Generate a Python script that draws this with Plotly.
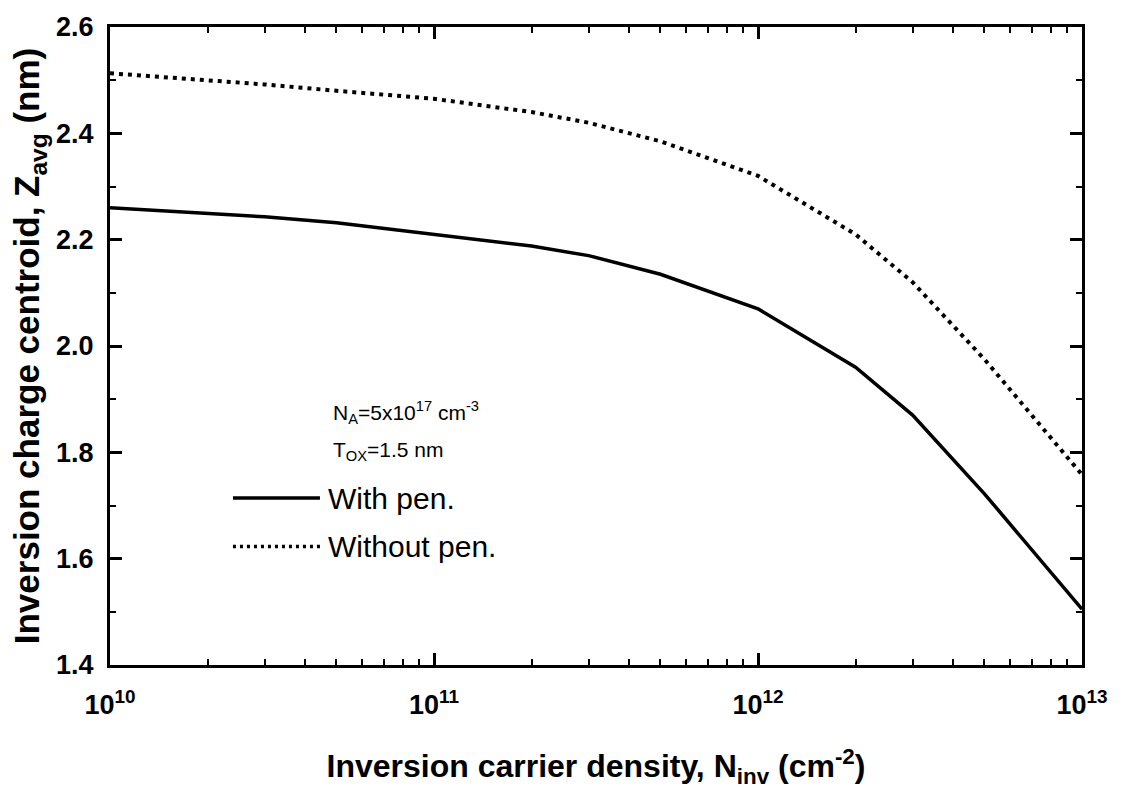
import plotly.graph_objects as go

# ---- data ----
n_inv = [1e10, 2e10, 3e10, 5e10, 1e11, 2e11, 3e11, 5e11, 1e12, 2e12, 3e12, 5e12, 1e13]
z_with_pen = [2.26, 2.25, 2.243, 2.232, 2.21, 2.188, 2.17, 2.135, 2.07, 1.96, 1.87, 1.722, 1.505]
z_without_pen = [2.513, 2.50, 2.492, 2.48, 2.465, 2.44, 2.42, 2.385, 2.32, 2.21, 2.12, 1.975, 1.758]

x_tickvals = [1e10, 1e11, 1e12, 1e13]
x_ticktext = ["10<sup>10</sup>", "10<sup>11</sup>", "10<sup>12</sup>", "10<sup>13</sup>"]
y_tickvals = [1.4, 1.6, 1.8, 2.0, 2.2, 2.4, 2.6]
y_ticktext = ["1.4", "1.6", "1.8", "2.0", "2.2", "2.4", "2.6"]

x_minor = [m * 10 ** e for e in (10, 11, 12) for m in range(2, 10)]

FONT = "Liberation Sans, Arial, sans-serif"

fig = go.Figure()
fig.add_trace(go.Scatter(x=n_inv, y=z_with_pen, mode="lines", name="With pen.",
                         line=dict(color="black", width=3.5), showlegend=False))
fig.add_trace(go.Scatter(x=n_inv, y=z_without_pen, mode="lines", name="Without pen.",
                         line=dict(color="black", width=4, dash="4px,5px"), showlegend=False))

axis_common = dict(showline=True, linecolor="black", linewidth=3, mirror="allticks",
                   ticks="inside", tickcolor="black", tickwidth=2.5, ticklen=12,
                   showgrid=False, zeroline=False,
                   tickfont=dict(family=FONT, size=27, color="black", weight="bold"))

fig.update_xaxes(type="log", range=[10, 13], tickvals=x_tickvals, ticktext=x_ticktext,
                 minor=dict(ticks="inside", ticklen=6, tickwidth=2, tickcolor="black",
                            tickvals=x_minor, showgrid=False),
                 ticklabelstandoff=14,
                 title=dict(text="Inversion carrier density, N<sub>inv</sub> (cm<sup>-2</sup>)",
                            font=dict(family=FONT, size=32, color="black", weight="bold"),
                            standoff=36),
                 **axis_common)
fig.update_yaxes(range=[1.4, 2.6], tickvals=y_tickvals, ticktext=y_ticktext,
                 minor=dict(ticks="inside", ticklen=6, tickwidth=2, tickcolor="black",
                            dtick=0.1, showgrid=False),
                 ticklabelstandoff=8,
                 title=dict(text="Inversion charge centroid, Z<sub>avg</sub> (nm)",
                            font=dict(family=FONT, size=35, color="black", weight="bold"),
                            standoff=6),
                 **axis_common)

# legend keys (decoration) drawn in paper coords
fig.add_shape(type="line", xref="paper", yref="paper", x0=0.1265, x1=0.216, y0=0.2616, y1=0.2616,
              line=dict(color="black", width=3.5))
fig.add_shape(type="line", xref="paper", yref="paper", x0=0.1265, x1=0.216, y0=0.1858, y1=0.1858,
              line=dict(color="black", width=3.5, dash="3px,4px"))

ann_font = dict(family=FONT, size=30, color="black")
small_font = dict(family=FONT, size=21, color="black")
fig.add_annotation(xref="paper", yref="paper", x=0.222, y=0.2616, xanchor="left", yanchor="middle",
                   text="With pen.", showarrow=False, font=ann_font)
fig.add_annotation(xref="paper", yref="paper", x=0.222, y=0.1858, xanchor="left", yanchor="middle",
                   text="Without pen.", showarrow=False, font=ann_font)
fig.add_annotation(xref="paper", yref="paper", x=0.227, y=0.395, xanchor="left", yanchor="middle",
                   text="N<sub>A</sub>=5x10<sup>17</sup> cm<sup>-3</sup>", showarrow=False, font=small_font)
fig.add_annotation(xref="paper", yref="paper", x=0.227, y=0.335, xanchor="left", yanchor="middle",
                   text="T<sub>OX</sub>=1.5 nm", showarrow=False, font=small_font)

fig.update_layout(width=1129, height=800, autosize=False,
                  margin=dict(l=110, r=47, t=19, b=135),
                  plot_bgcolor="white", paper_bgcolor="white",
                  font=dict(family=FONT, color="black"))

fig.write_html("out.html")
